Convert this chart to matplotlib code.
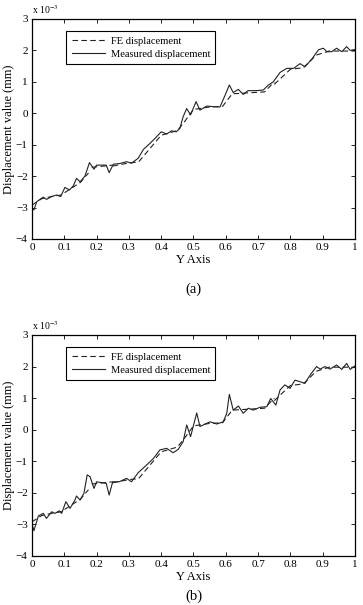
import numpy as np
import matplotlib.pyplot as plt

# FE displacement (x 1e-3 mm), piecewise linear with breaks (NaN)
fe_x = [0, 0.03, 0.06, 0.09, 0.12, 0.15, 0.175, np.nan,
        0.185, 0.25, np.nan,
        0.25, 0.30, 0.33, 0.40, 0.45, 0.47, 0.50, 0.55, 0.59, 0.62, 0.72, 0.75, np.nan,
        0.75, 0.80, 0.84, 0.88, 0.92, 1.0]
fe_y = [-2.92, -2.72, -2.65, -2.6, -2.4, -2.2, -1.9, np.nan,
        -1.72, -1.65, np.nan,
        -1.68, -1.58, -1.55, -0.7, -0.55, -0.3, 0.12, 0.2, 0.22, 0.62, 0.68, 1.0, np.nan,
        0.92, 1.4, 1.45, 1.85, 1.98, 1.98]

# measured displacement, case (a)
meas_a_x = [0, 0.006, 0.015, 0.035, 0.045, 0.061, 0.076, 0.089, 0.102, 0.116,
            0.128, 0.138, 0.149, 0.164, 0.178, 0.192, 0.2, 0.23, 0.239, 0.252,
            0.272, 0.293, 0.308, 0.329, 0.345, 0.365, 0.381, 0.4, 0.417, 0.432,
            0.447, 0.458, 0.468, 0.479, 0.491, 0.508, 0.52, 0.541, 0.561, 0.582,
            0.598, 0.611, 0.623, 0.639, 0.654, 0.669, 0.695, 0.716, 0.732, 0.747,
            0.768, 0.789, 0.81, 0.83, 0.845, 0.866, 0.887, 0.902, 0.913, 0.928,
            0.943, 0.959, 0.974, 0.985, 1.0]
meas_a_y = [-2.98, -3.08, -2.81, -2.67, -2.74, -2.65, -2.6, -2.65, -2.36, -2.44,
            -2.31, -2.07, -2.18, -2.0, -1.57, -1.78, -1.65, -1.65, -1.89, -1.62,
            -1.6, -1.54, -1.59, -1.43, -1.15, -0.96, -0.8, -0.59, -0.66, -0.56,
            -0.59, -0.48, -0.11, 0.15, -0.05, 0.37, 0.1, 0.23, 0.21, 0.2,
            0.58, 0.9, 0.66, 0.76, 0.6, 0.72, 0.72, 0.74, 0.9, 1.0,
            1.3, 1.43, 1.43, 1.58, 1.48, 1.72, 2.02, 2.07, 1.96, 1.96,
            2.07, 1.96, 2.12, 2.0, 2.03]

# measured displacement, case (b)
meas_b_x = [0, 0.006, 0.02, 0.035, 0.045, 0.061, 0.071, 0.085, 0.092, 0.105,
            0.118, 0.133, 0.138, 0.149, 0.161, 0.171, 0.18, 0.192, 0.2, 0.23,
            0.239, 0.25, 0.27, 0.293, 0.308, 0.329, 0.36, 0.376, 0.396, 0.417,
            0.437, 0.453, 0.468, 0.479, 0.491, 0.51, 0.52, 0.551, 0.572, 0.592,
            0.603, 0.611, 0.623, 0.639, 0.654, 0.67, 0.685, 0.706, 0.727, 0.739,
            0.755, 0.768, 0.783, 0.799, 0.814, 0.83, 0.845, 0.861, 0.881, 0.892,
            0.907, 0.923, 0.943, 0.959, 0.974, 0.985, 1.0]
meas_b_y = [-2.97, -3.2, -2.73, -2.65, -2.81, -2.6, -2.65, -2.57, -2.65, -2.28,
            -2.49, -2.23, -2.1, -2.23, -2.01, -1.43, -1.49, -1.86, -1.65, -1.7,
            -2.07, -1.65, -1.65, -1.54, -1.65, -1.36, -1.07, -0.91, -0.64, -0.59,
            -0.73, -0.62, -0.38, 0.15, -0.22, 0.53, 0.1, 0.25, 0.18, 0.25,
            0.52, 1.12, 0.62, 0.75, 0.52, 0.68, 0.62, 0.71, 0.73, 0.99,
            0.78, 1.26, 1.42, 1.31, 1.57, 1.52, 1.47, 1.73, 2.0, 1.92,
            2.0, 1.92, 2.05, 1.91, 2.1, 1.91, 2.02]

xticks = [0, 0.1, 0.2, 0.3, 0.4, 0.5, 0.6, 0.7, 0.8, 0.9, 1]
xticklabels = ["0", "0.1", "0.2", "0.3", "0.4", "0.5", "0.6", "0.7", "0.8", "0.9", "1"]
yticks = [-4, -3, -2, -1, 0, 1, 2, 3]

plt.rcParams["font.family"] = ["Liberation Serif", "DejaVu Serif"]
plt.rcParams["mathtext.fontset"] = "stix"

fig = plt.figure(figsize=(3.63, 6.05), dpi=100)
ax_a = fig.add_axes([0.088, 0.605, 0.890, 0.3636])
ax_b = fig.add_axes([0.088, 0.081, 0.890, 0.3653])

panels = [(ax_a, meas_a_x, meas_a_y, "(a)", -0.23), (ax_b, meas_b_x, meas_b_y, "(b)", -0.18)]
for ax, mx, my, tag, tag_y in panels:
    ax.plot(fe_x, fe_y, color="#222222", linewidth=0.8, linestyle=(0, (5, 3)),
            label="FE displacement")
    ax.plot(mx, my, color="#222222", linewidth=0.8, label="Measured displacement")
    ax.set_xlim(0, 1)
    ax.set_ylim(-4, 3)
    ax.set_xticks(xticks)
    ax.set_xticklabels(xticklabels)
    ax.set_yticks(yticks)
    ax.set_yticklabels(["\u2212" + str(-t) if t < 0 else str(t) for t in yticks])
    ax.tick_params(direction="in", top=True, right=True, length=3, width=0.6,
                   labelsize=8, pad=3)
    for sp in ax.spines.values():
        sp.set_linewidth(0.9)
    ax.set_xlabel("Y Axis", fontsize=9, labelpad=1)
    ax.set_ylabel("Displacement value (mm)", fontsize=9, labelpad=1)
    ax.text(0.0, 1.012, "x 10$^{-3}$", transform=ax.transAxes, fontsize=7,
            ha="left", va="bottom")
    leg = ax.legend(loc="upper left", bbox_to_anchor=(0.09, 0.968), fontsize=7.6,
                    fancybox=False, framealpha=1, edgecolor="black",
                    handlelength=3.2, borderpad=0.5, labelspacing=0.35,
                    handletextpad=0.5)
    leg.get_frame().set_linewidth(0.8)
    ax.text(0.5, tag_y, tag, transform=ax.transAxes, fontsize=10.5,
            ha="center", va="center")

fig.savefig("out.png", dpi=100)
